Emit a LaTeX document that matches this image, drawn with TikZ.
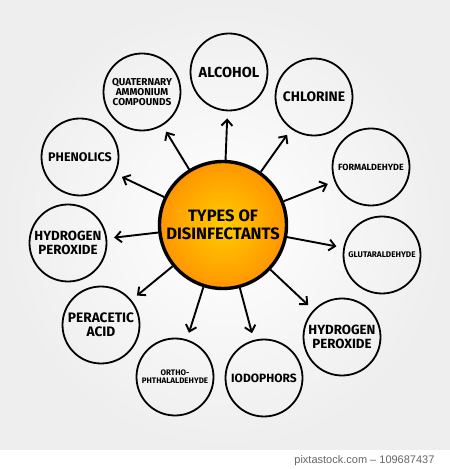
\documentclass[tikz,border=0pt]{standalone}
\usepackage{fontspec}
\setmainfont{Fira Sans}
\setsansfont{Liberation Sans}
\usetikzlibrary{arrows.meta}
\definecolor{hubin}{RGB}{255,204,0}
\definecolor{hubout}{RGB}{255,150,0}
\definecolor{bgout}{RGB}{238,238,238}
\begin{document}
\begin{tikzpicture}[x=1pt,y=1pt,
	hub/.style={circle,draw=black,line width=3.4pt,minimum size=127pt,inner sep=0pt,align=center,
		inner color=hubin,outer color=hubout,font=\bfseries\fontsize{16.5}{18}\selectfont},
	leaf/.style={circle,draw=black,line width=1.8pt,minimum size=77pt,inner sep=0pt,align=center,
		font=\bfseries\fontsize{13}{13}\selectfont},
	letters/.style={font=\bfseries\fontsize{#1}{#1}\selectfont},
	link/.style={-{Straight Barb[length=6pt,width=11pt]},line width=1.9pt,shorten >=7pt}]
	\useasboundingbox (0,0) rectangle (450,469);
	\fill[white] (0,0) rectangle (450,19);
	\shade[inner color=white,outer color=bgout] (0,19) rectangle (450,469);
	% centre
	\node[hub] (hub) at (223,244) {TYPES OF\\DISINFECTANTS};
	% leaves, clockwise from the top
	\node[leaf,letters=14.5] (alc) at (229,397) {ALCOHOL};
	\node[leaf,letters=13.8] (chl) at (314,372) {CHLORINE};
	\node[leaf,letters=9] (form) at (371,302) {FORMALDEHYDE};
	\node[leaf,letters=8.2] (glut) at (382,214) {GLUTARALDEHYDE};
	\node[leaf,letters=13.3] (hpr) at (342,132) {HYDROGEN\\PEROXIDE};
	\node[leaf,letters=12] (iod) at (264,91) {IODOPHORS};
	\node[leaf,letters=8] (opa) at (175,92) {ORTHO-\\PHTHALALDEHYDE};
	\node[leaf,letters=13.7] (per) at (101,144) {PERACETIC\\ACID};
	\node[leaf,letters=13.3] (hpl) at (68,226) {HYDROGEN\\PEROXIDE};
	\node[leaf,letters=12.5] (phe) at (80,312) {PHENOLICS};
	\node[leaf,letters=10] (quat) at (142,377) {QUATERNARY\\AMMONIUM\\COMPOUNDS};
	\foreach \n in {alc,chl,form,glut,hpr,iod,opa,per,hpl,phe,quat}
		\draw[link] (hub) -- (\n);
	\node[anchor=east,text=black!60,font=\sffamily\fontsize{11}{11}\selectfont] (credit) at (438,8) {pixtastock.com -- 109687437};
\end{tikzpicture}
\end{document}
